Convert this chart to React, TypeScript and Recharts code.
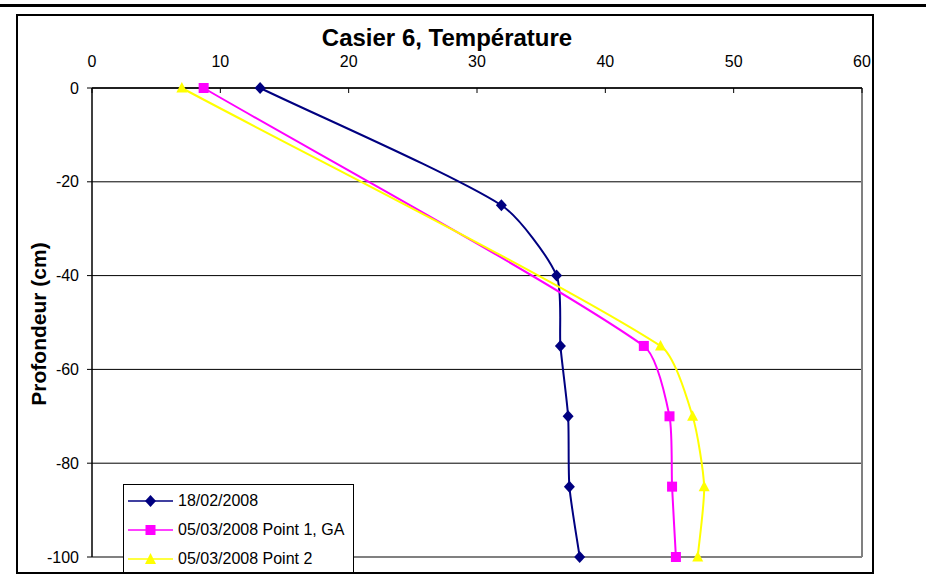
import React from 'react';
import { LineChart, Line, XAxis, YAxis, CartesianGrid, ReferenceLine } from 'recharts';

// depth (cm) and measured temperatures
const depths = [0, -25, -40, -55, -70, -85, -100];
const temp18Feb = [13.1, 31.9, 36.2, 36.5, 37.1, 37.2, 38.0];
const tempPoint1 = [8.7, null, null, 43.0, 45.0, 45.2, 45.5];
const tempPoint2 = [7.0, null, null, 44.3, 46.8, 47.7, 47.2];

const xTicks = [0, 10, 20, 30, 40, 50, 60];
const yTicks = [0, -20, -40, -60, -80, -100];

const seriesNames = ['18/02/2008', '05/03/2008 Point 1, GA', '05/03/2008 Point 2'];
const NAVY = '#000080';
const MAGENTA = '#FF00FF';
const YELLOW = '#FFFF00';

const toSeries = (vals: (number | null)[]) =>
  depths
    .map((d, i) => ({ depth: d, temp: vals[i] }))
    .filter(p => p.temp != null);

const FONT = '"Liberation Sans", Arial, sans-serif';

// spreadsheet-like smoothing: bezier with tangents scaled by segment length
const smoothCurve = (context: any) => {
  let pts: number[][] = [];
  const k = 0.22;
  return {
    areaStart() {},
    areaEnd() {},
    lineStart() {
      pts = [];
    },
    point(x: number, y: number) {
      pts.push([+x, +y]);
    },
    lineEnd() {
      const n = pts.length;
      if (!n) return;
      context.moveTo(pts[0][0], pts[0][1]);
      const tangent = (i: number) => {
        const a = pts[Math.max(0, i - 1)];
        const b = pts[Math.min(n - 1, i + 1)];
        const dx = b[0] - a[0];
        const dy = b[1] - a[1];
        const len = Math.hypot(dx, dy) || 1;
        return [dx / len, dy / len];
      };
      for (let i = 0; i < n - 1; i++) {
        const p = pts[i];
        const q = pts[i + 1];
        const seg = Math.hypot(q[0] - p[0], q[1] - p[1]);
        const t1 = tangent(i);
        const t2 = tangent(i + 1);
        context.bezierCurveTo(
          p[0] + t1[0] * seg * k,
          p[1] + t1[1] * seg * k,
          q[0] - t2[0] * seg * k,
          q[1] - t2[1] * seg * k,
          q[0],
          q[1]
        );
      }
    },
  };
};

const Diamond = (props: any) => {
  const { cx, cy, index } = props;
  if (cx == null || cy == null) return <g key={index} />;
  return <path key={index} d={`M${cx},${cy - 6}L${cx + 5.5},${cy}L${cx},${cy + 6}L${cx - 5.5},${cy}Z`} fill={NAVY} />;
};

const Square = (props: any) => {
  const { cx, cy, index } = props;
  if (cx == null || cy == null) return <g key={index} />;
  return <rect key={index} x={cx - 5} y={cy - 5} width={10} height={10} fill={MAGENTA} />;
};

const Triangle = (props: any) => {
  const { cx, cy, index } = props;
  if (cx == null || cy == null) return <g key={index} />;
  return <path key={index} d={`M${cx},${cy - 6}L${cx + 5.5},${cy + 4.5}L${cx - 5.5},${cy + 4.5}Z`} fill={YELLOW} />;
};

const legendItems = [
  { name: seriesNames[0], color: NAVY, shape: 'diamond' },
  { name: seriesNames[1], color: MAGENTA, shape: 'square' },
  { name: seriesNames[2], color: YELLOW, shape: 'triangle' },
];

function LegendMarker({ color, shape }: { color: string; shape: string }) {
  return (
    <svg width={45} height={14} style={{ display: 'block' }}>
      <line x1={0} y1={7} x2={45} y2={7} stroke={color} strokeWidth={1.5} />
      {shape === 'diamond' && <path d="M22.5,1L28,7L22.5,13L17,7Z" fill={color} />}
      {shape === 'square' && <rect x={17.5} y={2} width={10} height={10} fill={color} />}
      {shape === 'triangle' && <path d="M22.5,1L28,12L17,12Z" fill={color} />}
    </svg>
  );
}

export default function App() {
  return (
    <div
      style={{
        position: 'absolute',
        left: 0,
        top: 0,
        width: 926,
        height: 574,
        overflow: 'hidden',
        background: '#fff',
        fontFamily: FONT,
      }}
    >
      <div style={{ position: 'absolute', left: 0, top: 4, width: 926, height: 3, background: '#000' }} />

      <div style={{ position: 'absolute', left: 0, top: 0 }}>
        <LineChart
          width={926}
          height={574}
          layout="vertical"
          margin={{ top: 58, right: 64, bottom: 17, left: 52 }}
        >
          <CartesianGrid vertical={false} stroke="#000" strokeWidth={1} />
          <XAxis
            type="number"
            orientation="top"
            domain={[0, 60]}
            ticks={xTicks}
            height={30}
            interval={0}
            axisLine={{ stroke: '#000', strokeWidth: 1.5 }}
            tickLine={{ stroke: '#000' }}
            tickSize={-5}
            tickMargin={26}
            tick={{ fontSize: 16, fill: '#000', fontFamily: FONT }}
          />
          <YAxis
            type="number"
            dataKey="depth"
            domain={[-100, 0]}
            ticks={yTicks}
            reversed
            width={40}
            interval={0}
            axisLine={{ stroke: '#000', strokeWidth: 1.5 }}
            tickLine={{ stroke: '#000' }}
            tickSize={5}
            tickMargin={8}
            tick={{ fontSize: 16, fill: '#000', fontFamily: FONT }}
          />
          <ReferenceLine y={-100} stroke="#808080" strokeWidth={2} />
          <ReferenceLine x={60} stroke="#808080" strokeWidth={2} />
          <Line
            data={toSeries(temp18Feb)}
            dataKey="temp"
            name={seriesNames[0]}
            type={smoothCurve as any}
            stroke={NAVY}
            strokeWidth={2}
            dot={Diamond}
            isAnimationActive={false}
          />
          <Line
            data={toSeries(tempPoint1)}
            dataKey="temp"
            name={seriesNames[1]}
            type={smoothCurve as any}
            stroke={MAGENTA}
            strokeWidth={2}
            dot={Square}
            isAnimationActive={false}
          />
          <Line
            data={toSeries(tempPoint2)}
            dataKey="temp"
            name={seriesNames[2]}
            type={smoothCurve as any}
            stroke={YELLOW}
            strokeWidth={2}
            dot={Triangle}
            isAnimationActive={false}
          />
        </LineChart>
      </div>

      {/* title */}
      <div
        style={{
          position: 'absolute',
          left: 16,
          width: 862,
          top: 26,
          textAlign: 'center',
          fontSize: 24,
          lineHeight: '24px',
          fontWeight: 'bold',
        }}
      >
        Casier 6, Température
      </div>

      {/* y axis title */}
      <div
        style={{
          position: 'absolute',
          left: 38,
          top: 324,
          transform: 'translate(-50%, -50%) rotate(-90deg)',
          whiteSpace: 'nowrap',
          fontSize: 21,
          lineHeight: '21px',
          fontWeight: 'bold',
        }}
      >
        Profondeur (cm)
      </div>

      {/* legend */}
      <div
        style={{
          position: 'absolute',
          left: 123,
          top: 484,
          width: 231,
          height: 92,
          boxSizing: 'border-box',
          border: '1px solid #000',
          background: '#fff',
          paddingTop: 1,
        }}
      >
        {legendItems.map(item => (
          <div key={item.name} style={{ display: 'flex', alignItems: 'center', height: 29, paddingLeft: 4 }}>
            <LegendMarker color={item.color} shape={item.shape} />
            <span style={{ fontSize: 16, marginLeft: 5, whiteSpace: 'nowrap' }}>{item.name}</span>
          </div>
        ))}
      </div>

      {/* outer frame */}
      <div
        style={{
          position: 'absolute',
          left: 16,
          top: 14,
          width: 858,
          height: 560,
          boxSizing: 'border-box',
          border: '2px solid #000',
          pointerEvents: 'none',
        }}
      />
    </div>
  );
}
